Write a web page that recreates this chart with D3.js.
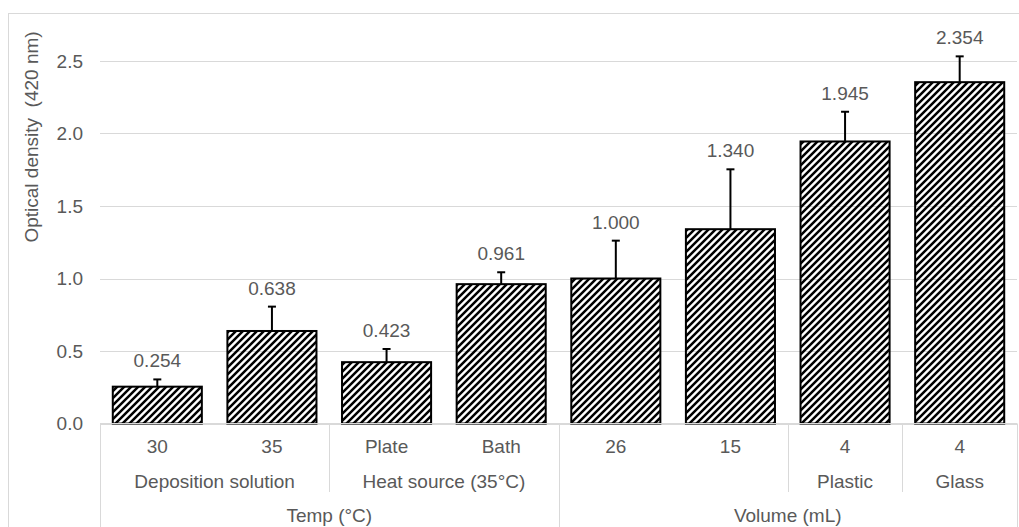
<!DOCTYPE html>
<html>
<head>
<meta charset="utf-8">
<script src="https://cdn.jsdelivr.net/npm/d3@7"></script>
<style>
  body { margin: 0; background: #fff; }
  svg { display: block; font-family: "Liberation Sans", Arial, sans-serif; }
</style>
</head>
<body>
<svg width="1019" height="527"></svg>
<script>
// Data
const categories = ["30", "35", "Plate", "Bath", "26", "15", "4", "4"];
const values = [0.254, 0.638, 0.423, 0.961, 1.000, 1.340, 1.945, 2.354];
const errors = [0.05, 0.168, 0.091, 0.082, 0.261, 0.413, 0.205, 0.178];
const subLabels = ["Deposition solution", "Heat source (35°C)", "", "Plastic", "Glass"];
const subSizes = [2, 2, 2, 1, 1];
const groupLabels = ["Temp (°C)", "Volume (mL)"];
const groupSizes = [4, 4];
const yTicks = [0.0, 0.5, 1.0, 1.5, 2.0, 2.5];

const textColor = "#595959";
const gridColor = "#d9d9d9";
const fontSize = 19;

const svg = d3.select("svg");

// hatch pattern (wide upward diagonal)
svg.append("defs").append("pattern")
    .attr("id", "hatch")
    .attr("patternUnits", "userSpaceOnUse")
    .attr("width", 7)
    .attr("height", 7)
  .append("path")
    .attr("d", "M-1,1 l2,-2 M0,7 l7,-7 M6,8 l2,-2")
    .attr("stroke", "#000")
    .attr("stroke-width", 2.5);

// chart area border
svg.append("rect")
    .attr("x", 8.5).attr("y", 13.5)
    .attr("width", 1030).attr("height", 540)
    .attr("fill", "none")
    .attr("stroke", gridColor);

const x = d3.scaleBand()
    .domain(d3.range(categories.length))
    .range([100, 1017])
    .paddingInner(0.223)
    .paddingOuter(0.1115);

const y = d3.scaleLinear()
    .domain([0, 2.5])
    .range([423.5, 61]);

// gridlines
svg.append("g")
  .selectAll("line")
  .data(yTicks)
  .join("line")
    .attr("x1", 100).attr("x2", 1017)
    .attr("y1", d => Math.round(y(d)) + 0.5)
    .attr("y2", d => Math.round(y(d)) + 0.5)
    .attr("stroke", gridColor);

// y tick labels
svg.append("g")
    .attr("fill", textColor)
    .attr("font-size", fontSize)
    .attr("text-anchor", "end")
  .selectAll("text")
  .data(yTicks)
  .join("text")
    .attr("x", 83)
    .attr("y", d => y(d))
    .attr("dy", "0.35em")
    .text(d => d.toFixed(1));

// y title
svg.append("text")
    .attr("transform", "translate(38,137) rotate(-90)")
    .attr("text-anchor", "middle")
    .attr("fill", textColor)
    .attr("font-size", fontSize)
    .style("white-space", "pre")
    .text("Optical density  (420 nm)");

// bars
svg.append("g")
  .selectAll("rect")
  .data(values)
  .join("rect")
    .attr("x", (d, i) => x(i))
    .attr("y", d => y(d))
    .attr("width", x.bandwidth())
    .attr("height", d => y(0) - y(d))
    .attr("fill", "url(#hatch)")
    .attr("stroke", "#000")
    .attr("stroke-width", 2);

// error bars (plus only)
const err = svg.append("g")
    .attr("stroke", "#000")
    .attr("stroke-width", 2);

values.forEach((v, i) => {
  const cx = x(i) + x.bandwidth() / 2;
  err.append("line")
      .attr("x1", cx).attr("x2", cx)
      .attr("y1", y(v)).attr("y2", y(v + errors[i]));
  err.append("line")
      .attr("x1", cx - 4).attr("x2", cx + 4)
      .attr("y1", y(v + errors[i])).attr("y2", y(v + errors[i]));
});

// data labels
svg.append("g")
    .attr("fill", textColor)
    .attr("font-size", fontSize)
    .attr("text-anchor", "middle")
  .selectAll("text")
  .data(values)
  .join("text")
    .attr("x", (d, i) => x(i) + x.bandwidth() / 2)
    .attr("y", (d, i) => y(d + errors[i]) - 12)
    .text(d => d.toFixed(3));

// multi-level category axis
const step = x.step();
const x0 = 100;
const axis = svg.append("g");

axis.append("line")
    .attr("x1", x0).attr("x2", 1017)
    .attr("y1", 423.5).attr("y2", 423.5)
    .attr("stroke", gridColor);

axis.append("g")
    .attr("fill", textColor)
    .attr("font-size", fontSize)
    .attr("text-anchor", "middle")
  .selectAll("text")
  .data(categories)
  .join("text")
    .attr("x", (d, i) => x0 + step * (i + 0.5))
    .attr("y", 453)
    .text(d => d);

const subStarts = d3.cumsum([0, ...subSizes]);
const groupStarts = d3.cumsum([0, ...groupSizes]);

axis.append("g")
    .attr("fill", textColor)
    .attr("font-size", fontSize)
    .attr("text-anchor", "middle")
  .selectAll("text")
  .data(subLabels)
  .join("text")
    .attr("x", (d, i) => x0 + step * (subStarts[i] + subSizes[i] / 2))
    .attr("y", 488)
    .text(d => d);

axis.append("g")
    .attr("fill", textColor)
    .attr("font-size", fontSize)
    .attr("text-anchor", "middle")
  .selectAll("text")
  .data(groupLabels)
  .join("text")
    .attr("x", (d, i) => x0 + step * (groupStarts[i] + groupSizes[i] / 2))
    .attr("y", 522)
    .text(d => d);

// separators: short between subgroups, full between groups
const fullSet = new Set(Array.from(groupStarts));
axis.append("g")
    .attr("stroke", gridColor)
  .selectAll("line")
  .data(Array.from(new Set([...subStarts, ...groupStarts])))
  .join("line")
    .attr("x1", d => Math.round(x0 + step * d) + 0.5)
    .attr("x2", d => Math.round(x0 + step * d) + 0.5)
    .attr("y1", 423.5)
    .attr("y2", d => fullSet.has(d) ? 527 : 492);
</script>
</body>
</html>
